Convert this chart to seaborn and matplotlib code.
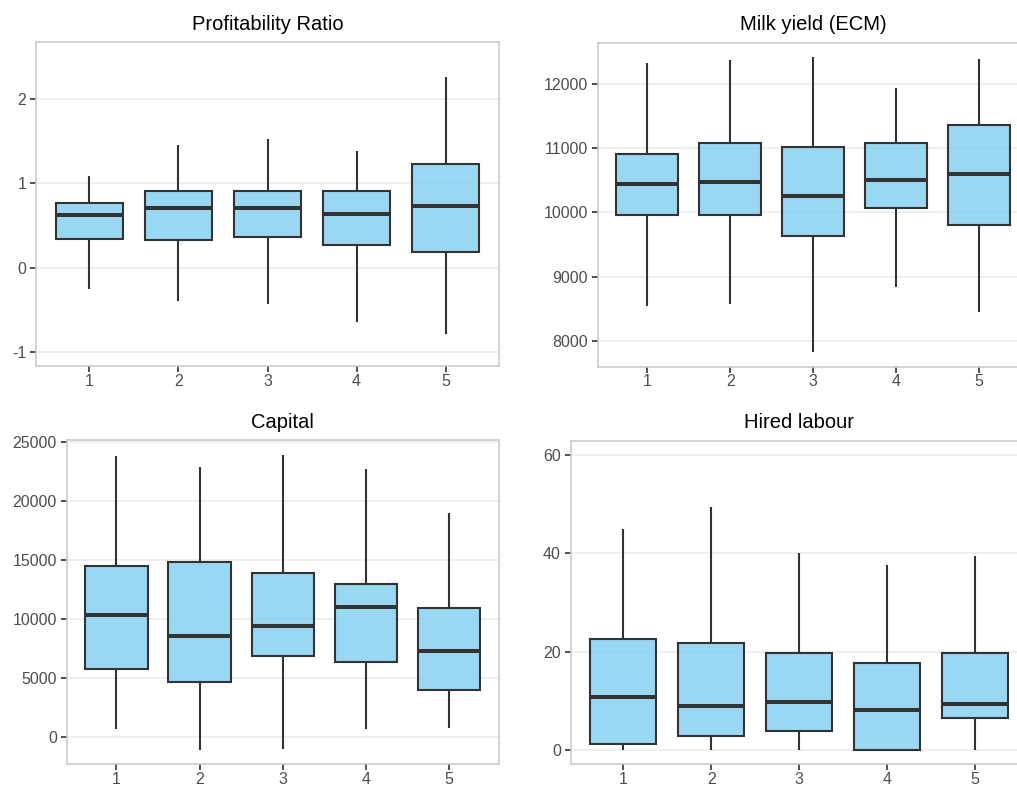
import matplotlib.pyplot as plt
import seaborn as sns
import pandas as pd

groups = ["1", "2", "3", "4", "5"]

# five-number summaries per group: min, q1, median, q3, max
profitability = [
    [-0.25, 0.34, 0.63, 0.77, 1.09],
    [-0.39, 0.33, 0.71, 0.91, 1.45],
    [-0.43, 0.36, 0.71, 0.905, 1.52],
    [-0.65, 0.27, 0.64, 0.91, 1.38],
    [-0.79, 0.18, 0.73, 1.225, 2.26],
]
milk_yield = [
    [8544, 9953, 10440, 10912, 12326],
    [8570, 9953, 10466, 11078, 12373],
    [7829, 9627, 10249, 11016, 12409],
    [8834, 10067, 10497, 11073, 11927],
    [8446, 9798, 10596, 11352, 12389],
]
capital = [
    [704, 5800, 10332, 14471, 23761],
    [-1042, 4673, 8530, 14865, 22860],
    [-985, 6897, 9375, 13936, 23846],
    [704, 6362, 10980, 12979, 22691],
    [788, 3998, 7320, 10923, 18975],
]
hired_labour = [
    [0, 1.3, 10.85, 22.5, 44.9],
    [0, 2.8, 9.0, 21.8, 49.5],
    [0, 3.9, 9.76, 19.8, 40.0],
    [0, 0, 8.07, 17.7, 37.6],
    [0, 6.4, 9.29, 19.8, 39.5],
]

titles = ["Profitability Ratio", "Milk yield (ECM)", "Capital", "Hired labour"]
yticks = [
    [-1, 0, 1, 2],
    [8000, 9000, 10000, 11000, 12000],
    [0, 5000, 10000, 15000, 20000, 25000],
    [0, 20, 40, 60],
]
ylims = [(-1.166, 2.676), (7601, 12637), (-2252, 25141), (-2.92, 62.9)]

sns.set_theme(style="white")
plt.rcParams["font.family"] = ["Liberation Sans", "DejaVu Sans"]
plt.rcParams["axes.unicode_minus"] = False

W, H = 1017, 786
fig = plt.figure(figsize=(W / 100, H / 100), dpi=100)

# axes boxes in pixels: left, top, right, bottom
boxes = [
    (36, 42, 499, 366),
    (597.5, 42.7, 1029, 366.7),
    (66.5, 440, 499, 764),
    (570.5, 440.7, 1028, 764.3),
]

datasets = [profitability, milk_yield, capital, hired_labour]

for i, data in enumerate(datasets):
    l, t, r, b = boxes[i]
    ax = fig.add_axes([l / W, 1 - b / H, (r - l) / W, (b - t) / H])

    rows = []
    for g, vals in zip(groups, data):
        for v in vals:
            rows.append({"group": g, "value": v})
    df = pd.DataFrame(rows)

    ax.grid(True, color="#EBEBEB", linewidth=1.1)
    ax.set_axisbelow(True)

    sns.boxplot(
        data=df, x="group", y="value", order=groups, ax=ax,
        width=0.75, whis=(0, 100), showcaps=False, saturation=1,
        color="#81CEF0", linecolor="#333333", linewidth=1.5,
        boxprops=dict(facecolor=(0.506, 0.808, 0.941, 0.8)),
        medianprops=dict(linewidth=2.9, color="#333333"),
    )

    ax.set_xlim(-0.6, 4.6)
    ax.set_ylim(*ylims[i])
    ax.set_yticks(yticks[i])
    ax.set_xlabel("")
    ax.set_ylabel("")
    ax.set_title(titles[i], fontsize=14.5, color="black", pad=9)
    ax.tick_params(axis="both", length=4, width=1.2, color="#333333",
                   labelcolor="#4D4D4D", labelsize=11.5, pad=3,
                   left=True, bottom=True)
    ax.tick_params(axis="x", pad=1.5)
    for s in ax.spines.values():
        s.set_color("#C8C8C8")
        s.set_linewidth(1.1)

plt.savefig("out.png", dpi=100)
